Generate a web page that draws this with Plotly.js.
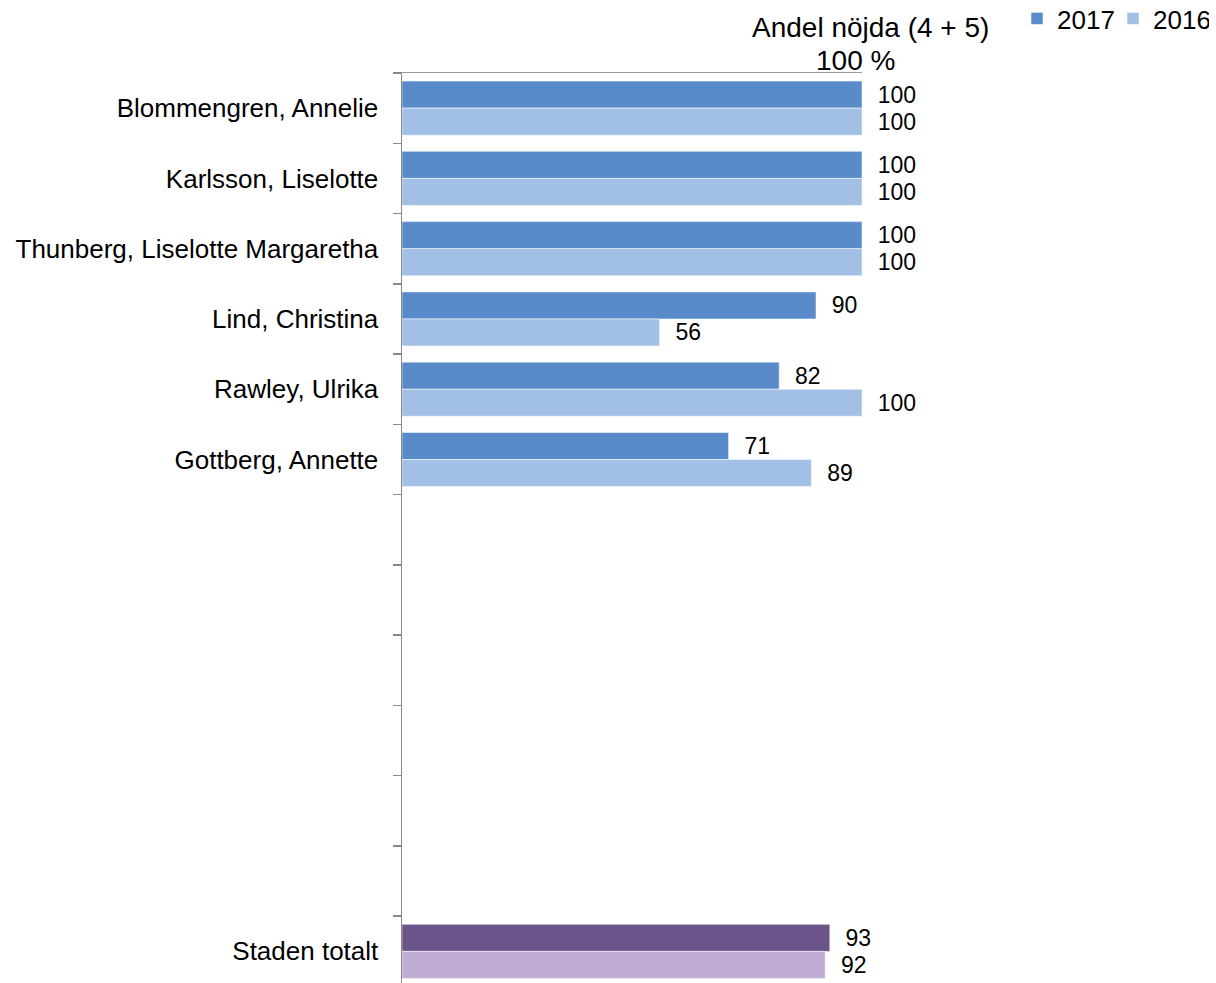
<!DOCTYPE html>
<html>
<head>
<meta charset="utf-8">
<script src="https://cdn.plot.ly/plotly-3.0.1.min.js"></script>
<style>html,body{margin:0;padding:0;background:#fff;}#chart{width:1216px;height:983px;}</style>
</head>
<body>
<div id="chart"></div>
<script>
const categories = ["Blommengren, Annelie","Karlsson, Liselotte","Thunberg, Liselotte Margaretha","Lind, Christina","Rawley, Ulrika","Gottberg, Annette"," ","  ","   ","    ","     ","      ","Staden totalt"];
const values2017 = [100,100,100,90,82,71,null,null,null,null,null,null,93];
const values2016 = [100,100,100,56,100,89,null,null,null,null,null,null,92];
const seriesNames = ["2017","2016"];
const axisTitle = "Andel nöjda (4 + 5)";
const tickLabel = "100 %";
const tickValue = 100;

const blue17 = "#598BCA", blue16 = "#A2C0E5", purple17 = "#6A5489", purple16 = "#BFADD3";
const col17 = categories.map(c => c === "Staden totalt" ? purple17 : blue17);
const col16 = categories.map(c => c === "Staden totalt" ? purple16 : blue16);

const FAM = "Liberation Sans, Arial, sans-serif";
const labelFont = {family: FAM, size: 23, color: "#000"};

const traces = [
  {type:"bar", orientation:"h", name:seriesNames[0], y:categories, x:values2017,
   marker:{color:col17, line:{color:"rgba(255,255,255,0.5)", width:1}},
   text: values2017.map(v => v == null ? "" : "  " + v), textposition:"outside",
   textfont: labelFont, cliponaxis:false, hoverinfo:"x"},
  {type:"bar", orientation:"h", name:seriesNames[1], y:categories, x:values2016,
   marker:{color:col16, line:{color:"rgba(255,255,255,0.5)", width:1}},
   text: values2016.map(v => v == null ? "" : "  " + v), textposition:"outside",
   textfont: labelFont, cliponaxis:false, hoverinfo:"x"}
];

const layout = {
  width:1216, height:983,
  margin:{l:402, r:354, t:73, b:0, autoexpand:false},
  paper_bgcolor:"#fff", plot_bgcolor:"#fff",
  barmode:"group", bargap:0.23, bargroupgap:0,
  font:{family:FAM, size:26, color:"#000"},
  showlegend:true,
  legend:{orientation:"h", x:1.337, y:1.0857, xanchor:"left", yanchor:"top",
          font:{size:26}, itemwidth:30, entrywidth:51, entrywidthmode:"pixels",
          traceorder:"normal", bgcolor:"rgba(0,0,0,0)"},
  xaxis:{range:[0,100], side:"top", showticklabels:false,
         showgrid:false, zeroline:false, showline:true, linecolor:"#9a9a9a", linewidth:1.5,
         ticks:"", fixedrange:true, automargin:false},
  yaxis:{type:"category", categoryarray:categories, categoryorder:"array",
         range:[12.45,-0.5], tickson:"boundaries", ticks:"outside", ticklen:8,
         tickcolor:"#888", tickwidth:1.5, showline:true, linecolor:"#888", linewidth:1.5,
         showgrid:false, zeroline:false, tickfont:{size:26}, ticklabelstandoff:17, automargin:false},
  annotations:[
    {text:axisTitle, xref:"paper", yref:"paper", x:1.018, y:1.0, yshift:46, xanchor:"center", yanchor:"middle",
     showarrow:false, font:{size:28, color:"#000"}},
    {text:tickLabel, xref:"x", yref:"paper", x:tickValue, y:1.0, xshift:-7, yshift:13, xanchor:"center", yanchor:"middle",
     showarrow:false, font:{size:28, color:"#000"}}
  ]
};

Plotly.newPlot("chart", traces, layout, {displayModeBar:false, staticPlot:true});
</script>
</body>
</html>
